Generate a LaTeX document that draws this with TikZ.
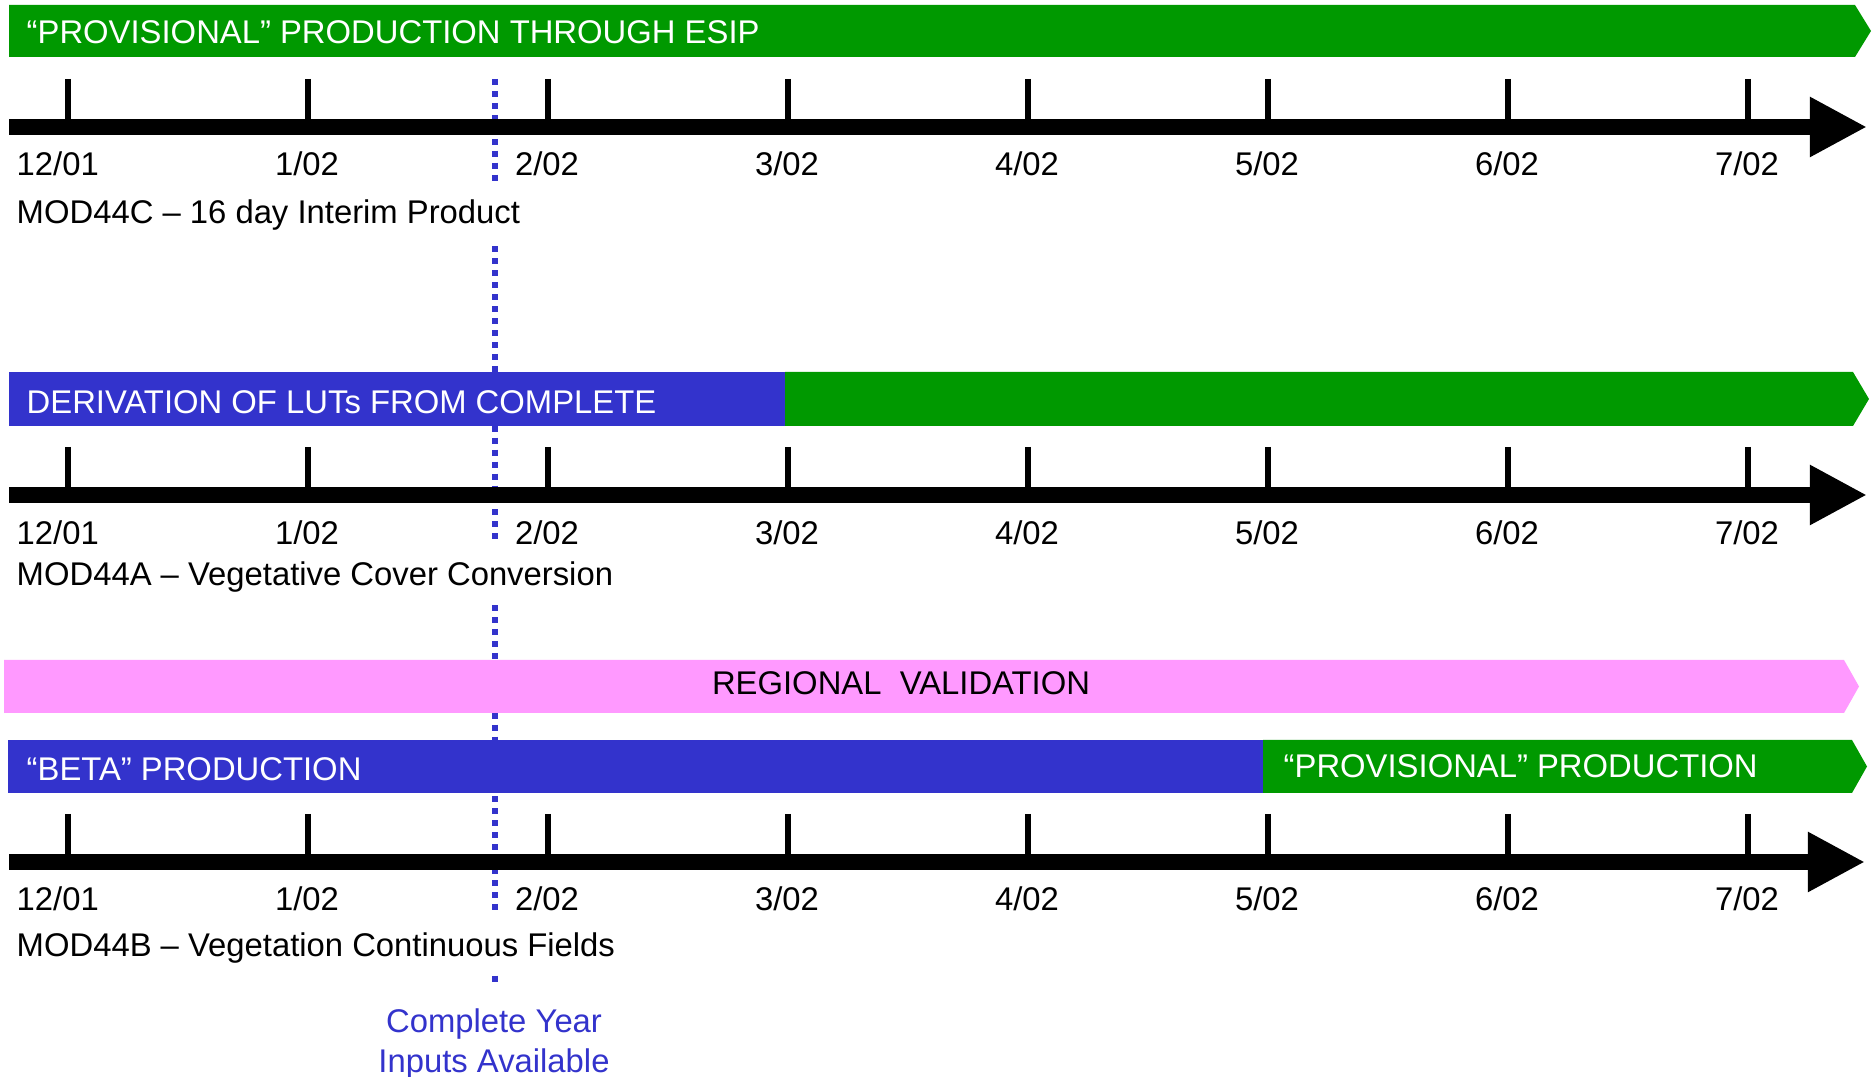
\documentclass[tikz,border=0pt]{standalone}
\usepackage{fontspec}
\setmainfont{Liberation Sans}
\usetikzlibrary{arrows.meta}
\definecolor{barblue}{RGB}{51,51,204}
\definecolor{bargreen}{RGB}{0,153,0}
\definecolor{barpink}{RGB}{255,153,255}

\begin{document}
\begin{tikzpicture}[x=.01cm,y=-.01cm,font=\fontsize{9.33}{11.3}\selectfont,
  timeaxis/.style={line width=4.55pt,-{Triangle[length=.57cm,width=.56cm]}},
  datetick/.style={line width=1.7pt},
  datelabel/.style={inner sep=0pt,text height=6.6pt,text depth=0pt},
  barlabel/.style={anchor=west,text=white,inner sep=0pt,text height=6.6pt,text depth=0pt},
  prodtitle/.style={anchor=west,fill=white,inner xsep=2pt,inner ysep=5.2pt,text height=6.6pt,text depth=0pt},
  availline/.style={barblue,line width=1.7pt,dash pattern=on 1.7pt off 1.7pt}]
\useasboundingbox (0,0) rectangle (1875,1077);
\coordinate (availtop) at (495,79);
\coordinate (availbot) at (495,986);
\draw[availline] (availtop) -- (availbot);
% MOD44C
\fill[bargreen] (9,5) -- (1855,5) -- (1871,31) -- (1855,57) -- (9,57) -- cycle;
\node[barlabel] (esip) at (26,32) {“PROVISIONAL” PRODUCTION THROUGH ESIP};
\draw[datetick] (68,79) -- (68,127);
\draw[datetick] (308,79) -- (308,127);
\draw[datetick] (548,79) -- (548,127);
\draw[datetick] (788,79) -- (788,127);
\draw[datetick] (1028,79) -- (1028,127);
\draw[datetick] (1268,79) -- (1268,127);
\draw[datetick] (1508,79) -- (1508,127);
\draw[datetick] (1748,79) -- (1748,127);
\draw[timeaxis] (9,127) -- (1867,127);
\node[datelabel,anchor=west] (c0) at (16,164) {12/01};
\node[datelabel] (c1) at (307,164) {1/02};
\node[datelabel] (c2) at (547,164) {2/02};
\node[datelabel] (c3) at (787,164) {3/02};
\node[datelabel] (c4) at (1027,164) {4/02};
\node[datelabel] (c5) at (1267,164) {5/02};
\node[datelabel] (c6) at (1507,164) {6/02};
\node[datelabel] (c7) at (1747,164) {7/02};
\node[prodtitle] (modc) at (9,212) {MOD44C -- 16 day Interim Product};
% MOD44A
\fill[barblue] (9,372) rectangle (785,426);
\fill[bargreen] (785,372) -- (1853,372) -- (1869,399) -- (1853,426) -- (785,426) -- cycle;
\node[barlabel] (luts) at (26,402) {DERIVATION OF LUTs FROM COMPLETE};
\draw[datetick] (68,447) -- (68,495);
\draw[datetick] (308,447) -- (308,495);
\draw[datetick] (548,447) -- (548,495);
\draw[datetick] (788,447) -- (788,495);
\draw[datetick] (1028,447) -- (1028,495);
\draw[datetick] (1268,447) -- (1268,495);
\draw[datetick] (1508,447) -- (1508,495);
\draw[datetick] (1748,447) -- (1748,495);
\draw[timeaxis] (9,495) -- (1867,495);
\node[datelabel,anchor=west] (a0) at (16,533) {12/01};
\node[datelabel] (a1) at (307,533) {1/02};
\node[datelabel] (a2) at (547,533) {2/02};
\node[datelabel] (a3) at (787,533) {3/02};
\node[datelabel] (a4) at (1027,533) {4/02};
\node[datelabel] (a5) at (1267,533) {5/02};
\node[datelabel] (a6) at (1507,533) {6/02};
\node[datelabel] (a7) at (1747,533) {7/02};
\node[prodtitle] (moda) at (9,574) {MOD44A -- Vegetative Cover Conversion};
% MOD44B
\fill[barpink] (4,660) -- (1844,660) -- (1859,686.5) -- (1844,713) -- (4,713) -- cycle;
\node[datelabel] (valid) at (901,683) {REGIONAL\ \ VALIDATION};
\fill[barblue] (8,740) rectangle (1263,793);
\fill[bargreen] (1263,740) -- (1852,740) -- (1867,766.5) -- (1852,793) -- (1263,793) -- cycle;
\node[barlabel] (beta) at (26,769) {“BETA” PRODUCTION};
\node[barlabel] (prov) at (1283,766) {“PROVISIONAL” PRODUCTION};
\draw[datetick] (68,814) -- (68,862);
\draw[datetick] (308,814) -- (308,862);
\draw[datetick] (548,814) -- (548,862);
\draw[datetick] (788,814) -- (788,862);
\draw[datetick] (1028,814) -- (1028,862);
\draw[datetick] (1268,814) -- (1268,862);
\draw[datetick] (1508,814) -- (1508,862);
\draw[datetick] (1748,814) -- (1748,862);
\draw[timeaxis] (9,862) -- (1865,862);
\node[datelabel,anchor=west] (b0) at (16,899) {12/01};
\node[datelabel] (b1) at (307,899) {1/02};
\node[datelabel] (b2) at (547,899) {2/02};
\node[datelabel] (b3) at (787,899) {3/02};
\node[datelabel] (b4) at (1027,899) {4/02};
\node[datelabel] (b5) at (1267,899) {5/02};
\node[datelabel] (b6) at (1507,899) {6/02};
\node[datelabel] (b7) at (1747,899) {7/02};
\node[prodtitle] (modb) at (9,945) {MOD44B -- Vegetation Continuous Fields};
\node[anchor=north,align=center,inner sep=0pt,text=barblue] (avail) at (494,1008) {Complete Year\\Inputs Available};
\end{tikzpicture}
\end{document}
